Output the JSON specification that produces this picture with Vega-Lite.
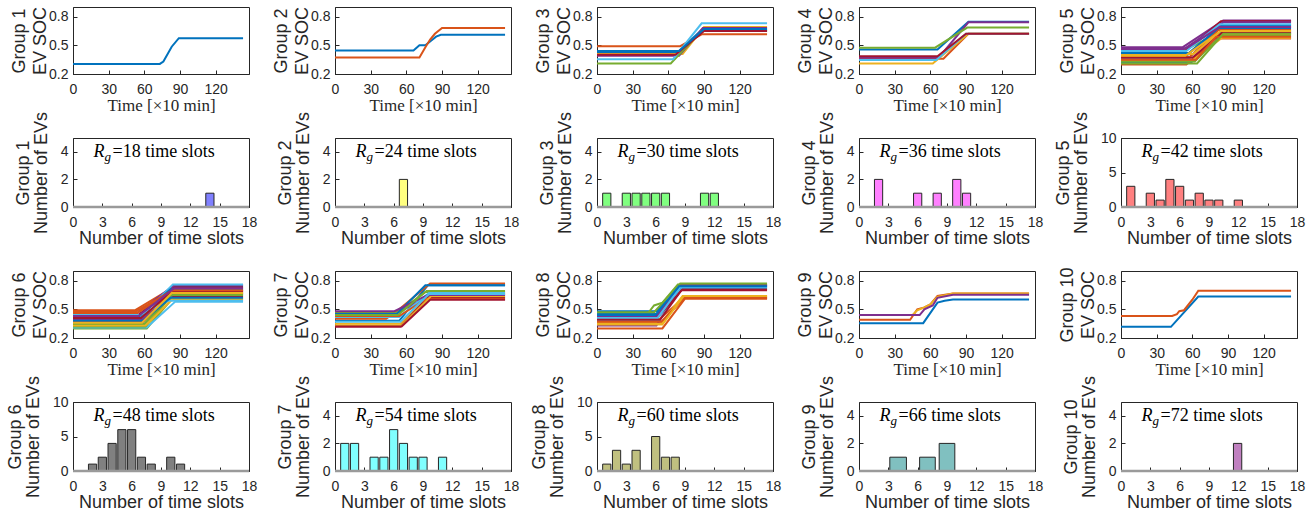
{
"$schema":"https://vega.github.io/schema/vega-lite/v6.json",
"padding":{"left":5,"top":5,"right":0,"bottom":0},
"bounds":"flush",
"columns":5,
"spacing":{"row":64,"column":86},
"datasets":{
"notes":[{"g":1,"r":"=18 time slots"},{"g":2,"r":"=24 time slots"},{"g":3,"r":"=30 time slots"},{"g":4,"r":"=36 time slots"},{"g":5,"r":"=42 time slots"},{"g":6,"r":"=48 time slots"},{"g":7,"r":"=54 time slots"},{"g":8,"r":"=60 time slots"},{"g":9,"r":"=66 time slots"},{"g":10,"r":"=72 time slots"}],
"bars":[
{"g":1,"a":13.58,"b":14.42,"n":1},
{"g":2,"a":6.58,"b":7.42,"n":2},
{"g":3,"a":0.58,"b":1.42,"n":1},{"g":3,"a":2.58,"b":3.42,"n":1},{"g":3,"a":3.58,"b":4.42,"n":1},{"g":3,"a":4.58,"b":5.42,"n":1},{"g":3,"a":5.58,"b":6.42,"n":1},{"g":3,"a":6.58,"b":7.42,"n":1},{"g":3,"a":10.58,"b":11.42,"n":1},{"g":3,"a":11.58,"b":12.42,"n":1},
{"g":4,"a":1.58,"b":2.42,"n":2},{"g":4,"a":5.58,"b":6.42,"n":1},{"g":4,"a":7.58,"b":8.42,"n":1},{"g":4,"a":9.58,"b":10.42,"n":2},{"g":4,"a":10.58,"b":11.42,"n":1},
{"g":5,"a":0.58,"b":1.42,"n":3},{"g":5,"a":2.58,"b":3.42,"n":2},{"g":5,"a":3.58,"b":4.42,"n":1},{"g":5,"a":4.58,"b":5.42,"n":4},{"g":5,"a":5.58,"b":6.42,"n":3},{"g":5,"a":6.58,"b":7.42,"n":1},{"g":5,"a":7.58,"b":8.42,"n":2},{"g":5,"a":8.58,"b":9.42,"n":1},{"g":5,"a":9.58,"b":10.42,"n":1},{"g":5,"a":11.58,"b":12.42,"n":1},
{"g":6,"a":1.58,"b":2.42,"n":1},{"g":6,"a":2.58,"b":3.42,"n":2},{"g":6,"a":3.58,"b":4.42,"n":4},{"g":6,"a":4.58,"b":5.42,"n":6},{"g":6,"a":5.58,"b":6.42,"n":6},{"g":6,"a":6.58,"b":7.42,"n":2},{"g":6,"a":7.58,"b":8.42,"n":1},{"g":6,"a":9.58,"b":10.42,"n":2},{"g":6,"a":10.58,"b":11.42,"n":1},
{"g":7,"a":0.58,"b":1.42,"n":2},{"g":7,"a":1.58,"b":2.42,"n":2},{"g":7,"a":3.58,"b":4.42,"n":1},{"g":7,"a":4.58,"b":5.42,"n":1},{"g":7,"a":5.58,"b":6.42,"n":3},{"g":7,"a":6.58,"b":7.42,"n":2},{"g":7,"a":7.58,"b":8.42,"n":1},{"g":7,"a":8.58,"b":9.42,"n":1},{"g":7,"a":10.58,"b":11.42,"n":1},
{"g":8,"a":0.58,"b":1.42,"n":1},{"g":8,"a":1.58,"b":2.42,"n":3},{"g":8,"a":2.58,"b":3.42,"n":1},{"g":8,"a":3.58,"b":4.42,"n":3},{"g":8,"a":5.58,"b":6.42,"n":5},{"g":8,"a":6.58,"b":7.42,"n":2},{"g":8,"a":7.58,"b":8.42,"n":2},
{"g":9,"a":3.15,"b":4.85,"n":1},{"g":9,"a":6.2,"b":7.8,"n":1},{"g":9,"a":8.2,"b":9.8,"n":2},
{"g":10,"a":11.5,"b":12.35,"n":2}
],
"lines":[
{"g":1,"e":1,"t":0,"s":0.305},{"g":1,"e":1,"t":73,"s":0.305},{"g":1,"e":1,"t":76,"s":0.33},{"g":1,"e":1,"t":83,"s":0.485},{"g":1,"e":1,"t":89,"s":0.574},{"g":1,"e":1,"t":143,"s":0.574},
{"g":2,"e":1,"t":0,"s":0.445},{"g":2,"e":1,"t":66,"s":0.445},{"g":2,"e":1,"t":71,"s":0.5},{"g":2,"e":1,"t":76,"s":0.5},{"g":2,"e":1,"t":81,"s":0.55},{"g":2,"e":1,"t":85,"s":0.59},{"g":2,"e":1,"t":89,"s":0.61},{"g":2,"e":1,"t":143,"s":0.61},
{"g":2,"e":2,"t":0,"s":0.373},{"g":2,"e":2,"t":71,"s":0.373},{"g":2,"e":2,"t":76,"s":0.48},{"g":2,"e":2,"t":80,"s":0.56},{"g":2,"e":2,"t":84,"s":0.62},{"g":2,"e":2,"t":90,"s":0.68},{"g":2,"e":2,"t":143,"s":0.68},
{"g":3,"e":1,"t":0,"s":0.43},{"g":3,"e":1,"t":68,"s":0.43},{"g":3,"e":1,"t":88,"s":0.66},{"g":3,"e":1,"t":143,"s":0.66},
{"g":3,"e":2,"t":0,"s":0.49},{"g":3,"e":2,"t":70,"s":0.49},{"g":3,"e":2,"t":88,"s":0.615},{"g":3,"e":2,"t":143,"s":0.615},
{"g":3,"e":3,"t":0,"s":0.41},{"g":3,"e":3,"t":72,"s":0.41},{"g":3,"e":3,"t":90,"s":0.69},{"g":3,"e":3,"t":143,"s":0.69},
{"g":3,"e":4,"t":0,"s":0.39},{"g":3,"e":4,"t":69,"s":0.39},{"g":3,"e":4,"t":89,"s":0.68},{"g":3,"e":4,"t":143,"s":0.68},
{"g":3,"e":5,"t":0,"s":0.31},{"g":3,"e":5,"t":62,"s":0.31},{"g":3,"e":5,"t":88,"s":0.65},{"g":3,"e":5,"t":143,"s":0.65},
{"g":3,"e":6,"t":0,"s":0.355},{"g":3,"e":6,"t":64,"s":0.355},{"g":3,"e":6,"t":88,"s":0.73},{"g":3,"e":6,"t":143,"s":0.73},
{"g":3,"e":7,"t":0,"s":0.4},{"g":3,"e":7,"t":66,"s":0.4},{"g":3,"e":7,"t":90,"s":0.65},{"g":3,"e":7,"t":143,"s":0.65},
{"g":3,"e":8,"t":0,"s":0.44},{"g":3,"e":8,"t":69,"s":0.44},{"g":3,"e":8,"t":90,"s":0.67},{"g":3,"e":8,"t":143,"s":0.67},
{"g":4,"e":1,"t":0,"s":0.455},{"g":4,"e":1,"t":66,"s":0.455},{"g":4,"e":1,"t":92,"s":0.745},{"g":4,"e":1,"t":143,"s":0.745},
{"g":4,"e":2,"t":0,"s":0.36},{"g":4,"e":2,"t":71,"s":0.36},{"g":4,"e":2,"t":92,"s":0.62},{"g":4,"e":2,"t":143,"s":0.62},
{"g":4,"e":3,"t":0,"s":0.31},{"g":4,"e":3,"t":62,"s":0.31},{"g":4,"e":3,"t":92,"s":0.62},{"g":4,"e":3,"t":143,"s":0.62},
{"g":4,"e":4,"t":0,"s":0.37},{"g":4,"e":4,"t":67,"s":0.37},{"g":4,"e":4,"t":92,"s":0.74},{"g":4,"e":4,"t":143,"s":0.74},
{"g":4,"e":5,"t":0,"s":0.475},{"g":4,"e":5,"t":64,"s":0.475},{"g":4,"e":5,"t":91,"s":0.685},{"g":4,"e":5,"t":143,"s":0.685},
{"g":4,"e":6,"t":0,"s":0.345},{"g":4,"e":6,"t":65,"s":0.345},{"g":4,"e":6,"t":90,"s":0.62},{"g":4,"e":6,"t":143,"s":0.62},
{"g":4,"e":7,"t":0,"s":0.385},{"g":4,"e":7,"t":66,"s":0.385},{"g":4,"e":7,"t":90,"s":0.62},{"g":4,"e":7,"t":143,"s":0.62},
{"g":5,"e":1,"t":0,"s":0.32},{"g":5,"e":1,"t":59,"s":0.32},{"g":5,"e":1,"t":84,"s":0.64},{"g":5,"e":1,"t":143,"s":0.64},
{"g":5,"e":2,"t":0,"s":0.3},{"g":5,"e":2,"t":55,"s":0.3},{"g":5,"e":2,"t":82,"s":0.57},{"g":5,"e":2,"t":143,"s":0.57},
{"g":5,"e":3,"t":0,"s":0.34},{"g":5,"e":3,"t":60,"s":0.34},{"g":5,"e":3,"t":85,"s":0.58},{"g":5,"e":3,"t":143,"s":0.58},
{"g":5,"e":4,"t":0,"s":0.48},{"g":5,"e":4,"t":52,"s":0.48},{"g":5,"e":4,"t":86,"s":0.76},{"g":5,"e":4,"t":143,"s":0.76},
{"g":5,"e":5,"t":0,"s":0.45},{"g":5,"e":5,"t":54,"s":0.45},{"g":5,"e":5,"t":80,"s":0.62},{"g":5,"e":5,"t":143,"s":0.62},
{"g":5,"e":6,"t":0,"s":0.36},{"g":5,"e":6,"t":57,"s":0.36},{"g":5,"e":6,"t":83,"s":0.7},{"g":5,"e":6,"t":143,"s":0.7},
{"g":5,"e":7,"t":0,"s":0.43},{"g":5,"e":7,"t":53,"s":0.43},{"g":5,"e":7,"t":84,"s":0.75},{"g":5,"e":7,"t":143,"s":0.75},
{"g":5,"e":8,"t":0,"s":0.4},{"g":5,"e":8,"t":56,"s":0.4},{"g":5,"e":8,"t":85,"s":0.71},{"g":5,"e":8,"t":143,"s":0.71},
{"g":5,"e":9,"t":0,"s":0.38},{"g":5,"e":9,"t":58,"s":0.38},{"g":5,"e":9,"t":82,"s":0.66},{"g":5,"e":9,"t":143,"s":0.66},
{"g":5,"e":10,"t":0,"s":0.41},{"g":5,"e":10,"t":61,"s":0.41},{"g":5,"e":10,"t":81,"s":0.61},{"g":5,"e":10,"t":143,"s":0.61},
{"g":5,"e":11,"t":0,"s":0.46},{"g":5,"e":11,"t":53,"s":0.46},{"g":5,"e":11,"t":86,"s":0.74},{"g":5,"e":11,"t":143,"s":0.74},
{"g":5,"e":12,"t":0,"s":0.33},{"g":5,"e":12,"t":62,"s":0.33},{"g":5,"e":12,"t":84,"s":0.6},{"g":5,"e":12,"t":143,"s":0.6},
{"g":5,"e":13,"t":0,"s":0.44},{"g":5,"e":13,"t":55,"s":0.44},{"g":5,"e":13,"t":83,"s":0.72},{"g":5,"e":13,"t":143,"s":0.72},
{"g":5,"e":14,"t":0,"s":0.37},{"g":5,"e":14,"t":60,"s":0.37},{"g":5,"e":14,"t":85,"s":0.63},{"g":5,"e":14,"t":143,"s":0.63},
{"g":5,"e":15,"t":0,"s":0.42},{"g":5,"e":15,"t":57,"s":0.42},{"g":5,"e":15,"t":82,"s":0.68},{"g":5,"e":15,"t":143,"s":0.68},
{"g":5,"e":16,"t":0,"s":0.35},{"g":5,"e":16,"t":63,"s":0.35},{"g":5,"e":16,"t":80,"s":0.59},{"g":5,"e":16,"t":143,"s":0.59},
{"g":5,"e":17,"t":0,"s":0.39},{"g":5,"e":17,"t":54,"s":0.39},{"g":5,"e":17,"t":84,"s":0.65},{"g":5,"e":17,"t":143,"s":0.65},
{"g":5,"e":18,"t":0,"s":0.47},{"g":5,"e":18,"t":55,"s":0.47},{"g":5,"e":18,"t":83,"s":0.69},{"g":5,"e":18,"t":143,"s":0.69},
{"g":5,"e":19,"t":0,"s":0.31},{"g":5,"e":19,"t":64,"s":0.31},{"g":5,"e":19,"t":86,"s":0.62},{"g":5,"e":19,"t":143,"s":0.62},
{"g":6,"e":1,"t":0,"s":0.36},{"g":6,"e":1,"t":57,"s":0.36},{"g":6,"e":1,"t":84,"s":0.74},{"g":6,"e":1,"t":143,"s":0.74},
{"g":6,"e":2,"t":0,"s":0.49},{"g":6,"e":2,"t":52,"s":0.49},{"g":6,"e":2,"t":83,"s":0.72},{"g":6,"e":2,"t":143,"s":0.72},
{"g":6,"e":3,"t":0,"s":0.47},{"g":6,"e":3,"t":53,"s":0.47},{"g":6,"e":3,"t":82,"s":0.66},{"g":6,"e":3,"t":143,"s":0.66},
{"g":6,"e":4,"t":0,"s":0.44},{"g":6,"e":4,"t":55,"s":0.44},{"g":6,"e":4,"t":85,"s":0.7},{"g":6,"e":4,"t":143,"s":0.7},
{"g":6,"e":5,"t":0,"s":0.3},{"g":6,"e":5,"t":62,"s":0.3},{"g":6,"e":5,"t":84,"s":0.62},{"g":6,"e":5,"t":143,"s":0.62},
{"g":6,"e":6,"t":0,"s":0.31},{"g":6,"e":6,"t":62,"s":0.31},{"g":6,"e":6,"t":86,"s":0.58},{"g":6,"e":6,"t":143,"s":0.58},
{"g":6,"e":7,"t":0,"s":0.43},{"g":6,"e":7,"t":54,"s":0.43},{"g":6,"e":7,"t":84,"s":0.73},{"g":6,"e":7,"t":143,"s":0.73},
{"g":6,"e":8,"t":0,"s":0.4},{"g":6,"e":8,"t":58,"s":0.4},{"g":6,"e":8,"t":83,"s":0.67},{"g":6,"e":8,"t":143,"s":0.67},
{"g":6,"e":9,"t":0,"s":0.38},{"g":6,"e":9,"t":57,"s":0.38},{"g":6,"e":9,"t":85,"s":0.69},{"g":6,"e":9,"t":143,"s":0.69},
{"g":6,"e":10,"t":0,"s":0.34},{"g":6,"e":10,"t":60,"s":0.34},{"g":6,"e":10,"t":82,"s":0.63},{"g":6,"e":10,"t":143,"s":0.63},
{"g":6,"e":11,"t":0,"s":0.45},{"g":6,"e":11,"t":53,"s":0.45},{"g":6,"e":11,"t":85,"s":0.75},{"g":6,"e":11,"t":143,"s":0.75},
{"g":6,"e":12,"t":0,"s":0.32},{"g":6,"e":12,"t":61,"s":0.32},{"g":6,"e":12,"t":80,"s":0.6},{"g":6,"e":12,"t":143,"s":0.6},
{"g":6,"e":13,"t":0,"s":0.41},{"g":6,"e":13,"t":56,"s":0.41},{"g":6,"e":13,"t":84,"s":0.76},{"g":6,"e":13,"t":143,"s":0.76},
{"g":6,"e":14,"t":0,"s":0.37},{"g":6,"e":14,"t":59,"s":0.37},{"g":6,"e":14,"t":83,"s":0.64},{"g":6,"e":14,"t":143,"s":0.64},
{"g":6,"e":15,"t":0,"s":0.42},{"g":6,"e":15,"t":55,"s":0.42},{"g":6,"e":15,"t":82,"s":0.71},{"g":6,"e":15,"t":143,"s":0.71},
{"g":6,"e":16,"t":0,"s":0.46},{"g":6,"e":16,"t":54,"s":0.46},{"g":6,"e":16,"t":81,"s":0.68},{"g":6,"e":16,"t":143,"s":0.68},
{"g":6,"e":17,"t":0,"s":0.33},{"g":6,"e":17,"t":61,"s":0.33},{"g":6,"e":17,"t":84,"s":0.61},{"g":6,"e":17,"t":143,"s":0.61},
{"g":6,"e":18,"t":0,"s":0.39},{"g":6,"e":18,"t":58,"s":0.39},{"g":6,"e":18,"t":85,"s":0.66},{"g":6,"e":18,"t":143,"s":0.66},
{"g":6,"e":19,"t":0,"s":0.35},{"g":6,"e":19,"t":60,"s":0.35},{"g":6,"e":19,"t":83,"s":0.65},{"g":6,"e":19,"t":143,"s":0.65},
{"g":6,"e":20,"t":0,"s":0.44},{"g":6,"e":20,"t":56,"s":0.44},{"g":6,"e":20,"t":80,"s":0.59},{"g":6,"e":20,"t":143,"s":0.59},
{"g":6,"e":21,"t":0,"s":0.41},{"g":6,"e":21,"t":57,"s":0.41},{"g":6,"e":21,"t":84,"s":0.69},{"g":6,"e":21,"t":143,"s":0.69},
{"g":6,"e":22,"t":0,"s":0.38},{"g":6,"e":22,"t":59,"s":0.38},{"g":6,"e":22,"t":82,"s":0.62},{"g":6,"e":22,"t":143,"s":0.62},
{"g":6,"e":23,"t":0,"s":0.48},{"g":6,"e":23,"t":53,"s":0.48},{"g":6,"e":23,"t":84,"s":0.7},{"g":6,"e":23,"t":143,"s":0.7},
{"g":6,"e":24,"t":0,"s":0.36},{"g":6,"e":24,"t":58,"s":0.36},{"g":6,"e":24,"t":83,"s":0.67},{"g":6,"e":24,"t":143,"s":0.67},
{"g":6,"e":25,"t":0,"s":0.43},{"g":6,"e":25,"t":55,"s":0.43},{"g":6,"e":25,"t":85,"s":0.72},{"g":6,"e":25,"t":143,"s":0.72},
{"g":7,"e":1,"t":0,"s":0.38},{"g":7,"e":1,"t":54,"s":0.38},{"g":7,"e":1,"t":78,"s":0.75},{"g":7,"e":1,"t":143,"s":0.75},
{"g":7,"e":2,"t":0,"s":0.4},{"g":7,"e":2,"t":43,"s":0.4},{"g":7,"e":2,"t":52,"s":0.48},{"g":7,"e":2,"t":80,"s":0.77},{"g":7,"e":2,"t":143,"s":0.77},
{"g":7,"e":3,"t":0,"s":0.35},{"g":7,"e":3,"t":55,"s":0.35},{"g":7,"e":3,"t":80,"s":0.66},{"g":7,"e":3,"t":143,"s":0.66},
{"g":7,"e":4,"t":0,"s":0.46},{"g":7,"e":4,"t":52,"s":0.46},{"g":7,"e":4,"t":78,"s":0.63},{"g":7,"e":4,"t":143,"s":0.63},
{"g":7,"e":5,"t":0,"s":0.47},{"g":7,"e":5,"t":53,"s":0.47},{"g":7,"e":5,"t":76,"s":0.68},{"g":7,"e":5,"t":143,"s":0.68},
{"g":7,"e":6,"t":0,"s":0.42},{"g":7,"e":6,"t":54,"s":0.42},{"g":7,"e":6,"t":79,"s":0.67},{"g":7,"e":6,"t":143,"s":0.67},
{"g":7,"e":7,"t":0,"s":0.32},{"g":7,"e":7,"t":55,"s":0.32},{"g":7,"e":7,"t":78,"s":0.62},{"g":7,"e":7,"t":143,"s":0.62},
{"g":7,"e":8,"t":0,"s":0.45},{"g":7,"e":8,"t":52,"s":0.45},{"g":7,"e":8,"t":76,"s":0.75},{"g":7,"e":8,"t":143,"s":0.75},
{"g":7,"e":9,"t":0,"s":0.43},{"g":7,"e":9,"t":54,"s":0.43},{"g":7,"e":9,"t":77,"s":0.61},{"g":7,"e":9,"t":143,"s":0.61},
{"g":7,"e":10,"t":0,"s":0.33},{"g":7,"e":10,"t":56,"s":0.33},{"g":7,"e":10,"t":81,"s":0.64},{"g":7,"e":10,"t":143,"s":0.64},
{"g":7,"e":11,"t":0,"s":0.48},{"g":7,"e":11,"t":50,"s":0.48},{"g":7,"e":11,"t":78,"s":0.65},{"g":7,"e":11,"t":143,"s":0.65},
{"g":7,"e":12,"t":0,"s":0.44},{"g":7,"e":12,"t":53,"s":0.44},{"g":7,"e":12,"t":77,"s":0.69},{"g":7,"e":12,"t":143,"s":0.69},
{"g":7,"e":13,"t":0,"s":0.37},{"g":7,"e":13,"t":55,"s":0.37},{"g":7,"e":13,"t":79,"s":0.66},{"g":7,"e":13,"t":143,"s":0.66},
{"g":7,"e":14,"t":0,"s":0.32},{"g":7,"e":14,"t":56,"s":0.32},{"g":7,"e":14,"t":80,"s":0.6},{"g":7,"e":14,"t":143,"s":0.6},
{"g":8,"e":1,"t":0,"s":0.48},{"g":8,"e":1,"t":50,"s":0.48},{"g":8,"e":1,"t":72,"s":0.75},{"g":8,"e":1,"t":143,"s":0.75},
{"g":8,"e":2,"t":0,"s":0.3},{"g":8,"e":2,"t":55,"s":0.3},{"g":8,"e":2,"t":74,"s":0.61},{"g":8,"e":2,"t":143,"s":0.61},
{"g":8,"e":3,"t":0,"s":0.36},{"g":8,"e":3,"t":55,"s":0.36},{"g":8,"e":3,"t":72,"s":0.63},{"g":8,"e":3,"t":143,"s":0.63},
{"g":8,"e":4,"t":0,"s":0.33},{"g":8,"e":4,"t":50,"s":0.33},{"g":8,"e":4,"t":70,"s":0.74},{"g":8,"e":4,"t":143,"s":0.74},
{"g":8,"e":5,"t":0,"s":0.46},{"g":8,"e":5,"t":43,"s":0.46},{"g":8,"e":5,"t":48,"s":0.54},{"g":8,"e":5,"t":55,"s":0.57},{"g":8,"e":5,"t":68,"s":0.76},{"g":8,"e":5,"t":143,"s":0.76},
{"g":8,"e":6,"t":0,"s":0.38},{"g":8,"e":6,"t":52,"s":0.38},{"g":8,"e":6,"t":71,"s":0.72},{"g":8,"e":6,"t":143,"s":0.72},
{"g":8,"e":7,"t":0,"s":0.43},{"g":8,"e":7,"t":52,"s":0.43},{"g":8,"e":7,"t":72,"s":0.71},{"g":8,"e":7,"t":143,"s":0.71},
{"g":8,"e":8,"t":0,"s":0.45},{"g":8,"e":8,"t":51,"s":0.45},{"g":8,"e":8,"t":70,"s":0.73},{"g":8,"e":8,"t":143,"s":0.73},
{"g":8,"e":9,"t":0,"s":0.4},{"g":8,"e":9,"t":53,"s":0.4},{"g":8,"e":9,"t":73,"s":0.62},{"g":8,"e":9,"t":143,"s":0.62},
{"g":8,"e":10,"t":0,"s":0.35},{"g":8,"e":10,"t":54,"s":0.35},{"g":8,"e":10,"t":72,"s":0.64},{"g":8,"e":10,"t":143,"s":0.64},
{"g":8,"e":11,"t":0,"s":0.42},{"g":8,"e":11,"t":50,"s":0.42},{"g":8,"e":11,"t":69,"s":0.75},{"g":8,"e":11,"t":143,"s":0.75},
{"g":8,"e":12,"t":0,"s":0.47},{"g":8,"e":12,"t":48,"s":0.47},{"g":8,"e":12,"t":70,"s":0.77},{"g":8,"e":12,"t":143,"s":0.77},
{"g":8,"e":13,"t":0,"s":0.41},{"g":8,"e":13,"t":51,"s":0.41},{"g":8,"e":13,"t":70,"s":0.73},{"g":8,"e":13,"t":143,"s":0.73},
{"g":8,"e":14,"t":0,"s":0.39},{"g":8,"e":14,"t":53,"s":0.39},{"g":8,"e":14,"t":71,"s":0.7},{"g":8,"e":14,"t":143,"s":0.7},
{"g":8,"e":15,"t":0,"s":0.44},{"g":8,"e":15,"t":49,"s":0.44},{"g":8,"e":15,"t":69,"s":0.74},{"g":8,"e":15,"t":143,"s":0.74},
{"g":8,"e":16,"t":0,"s":0.37},{"g":8,"e":16,"t":54,"s":0.37},{"g":8,"e":16,"t":74,"s":0.62},{"g":8,"e":16,"t":143,"s":0.62},
{"g":8,"e":17,"t":0,"s":0.34},{"g":8,"e":17,"t":55,"s":0.34},{"g":8,"e":17,"t":73,"s":0.64},{"g":8,"e":17,"t":143,"s":0.64},
{"g":9,"e":1,"t":0,"s":0.355},{"g":9,"e":1,"t":54,"s":0.355},{"g":9,"e":1,"t":66,"s":0.57},{"g":9,"e":1,"t":72,"s":0.59},{"g":9,"e":1,"t":79,"s":0.603},{"g":9,"e":1,"t":143,"s":0.603},
{"g":9,"e":2,"t":0,"s":0.39},{"g":9,"e":2,"t":43,"s":0.39},{"g":9,"e":2,"t":49,"s":0.5},{"g":9,"e":2,"t":55,"s":0.52},{"g":9,"e":2,"t":60,"s":0.55},{"g":9,"e":2,"t":66,"s":0.64},{"g":9,"e":2,"t":79,"s":0.665},{"g":9,"e":2,"t":143,"s":0.665},
{"g":9,"e":3,"t":0,"s":0.44},{"g":9,"e":3,"t":45,"s":0.44},{"g":9,"e":3,"t":49,"s":0.49},{"g":9,"e":3,"t":55,"s":0.52},{"g":9,"e":3,"t":60,"s":0.55},{"g":9,"e":3,"t":66,"s":0.63},{"g":9,"e":3,"t":79,"s":0.665},{"g":9,"e":3,"t":143,"s":0.665},
{"g":9,"e":4,"t":0,"s":0.44},{"g":9,"e":4,"t":51,"s":0.44},{"g":9,"e":4,"t":55,"s":0.5},{"g":9,"e":4,"t":62,"s":0.54},{"g":9,"e":4,"t":66,"s":0.62},{"g":9,"e":4,"t":79,"s":0.652},{"g":9,"e":4,"t":143,"s":0.652},
{"g":10,"e":1,"t":0,"s":0.317},{"g":10,"e":1,"t":42,"s":0.317},{"g":10,"e":1,"t":65,"s":0.634},{"g":10,"e":1,"t":143,"s":0.634},
{"g":10,"e":2,"t":0,"s":0.43},{"g":10,"e":2,"t":43,"s":0.43},{"g":10,"e":2,"t":47,"s":0.45},{"g":10,"e":2,"t":49,"s":0.48},{"g":10,"e":2,"t":53,"s":0.49},{"g":10,"e":2,"t":60,"s":0.6},{"g":10,"e":2,"t":65,"s":0.693},{"g":10,"e":2,"t":143,"s":0.693}
]
},
"concat":[
{"width":176,"height":67,"data":{"name":"lines"},"transform":[{"filter":"datum.g==1"}],"mark":{"type":"line","strokeWidth":2},"encoding":{"x":{"field":"t","type":"quantitative","scale":{"domain":[0,148],"nice":false},"axis":{"values":[0,30,60,90,120],"labelOverlap":false,"title":"Time [×10 min]","titleFont":"Liberation Serif","titleFontSize":17,"titleY":36}},"y":{"field":"s","type":"quantitative","scale":{"domain":[0.2,0.9],"nice":false,"zero":false},"axis":{"values":[0.2,0.5,0.8],"labelOverlap":false,"format":".1f","title":["Group 1","EV SOC"],"titleX":-49,"titleLineHeight":21}},"color":{"field":"e","type":"ordinal","legend":null,"scale":{"range":["#0072BD","#D95319","#EDB120","#7E2F8E","#77AC30","#4DBEEE","#A2142F"]}}}},
{"width":176,"height":67,"data":{"name":"lines"},"transform":[{"filter":"datum.g==2"}],"mark":{"type":"line","strokeWidth":2},"encoding":{"x":{"field":"t","type":"quantitative","scale":{"domain":[0,148],"nice":false},"axis":{"values":[0,30,60,90,120],"labelOverlap":false,"title":"Time [×10 min]","titleFont":"Liberation Serif","titleFontSize":17,"titleY":36}},"y":{"field":"s","type":"quantitative","scale":{"domain":[0.2,0.9],"nice":false,"zero":false},"axis":{"values":[0.2,0.5,0.8],"labelOverlap":false,"format":".1f","title":["Group 2","EV SOC"],"titleX":-49,"titleLineHeight":21}},"color":{"field":"e","type":"ordinal","legend":null,"scale":{"range":["#0072BD","#D95319","#EDB120","#7E2F8E","#77AC30","#4DBEEE","#A2142F"]}}}},
{"width":176,"height":67,"data":{"name":"lines"},"transform":[{"filter":"datum.g==3"}],"mark":{"type":"line","strokeWidth":2},"encoding":{"x":{"field":"t","type":"quantitative","scale":{"domain":[0,148],"nice":false},"axis":{"values":[0,30,60,90,120],"labelOverlap":false,"title":"Time [×10 min]","titleFont":"Liberation Serif","titleFontSize":17,"titleY":36}},"y":{"field":"s","type":"quantitative","scale":{"domain":[0.2,0.9],"nice":false,"zero":false},"axis":{"values":[0.2,0.5,0.8],"labelOverlap":false,"format":".1f","title":["Group 3","EV SOC"],"titleX":-49,"titleLineHeight":21}},"color":{"field":"e","type":"ordinal","legend":null,"scale":{"range":["#0072BD","#D95319","#EDB120","#7E2F8E","#77AC30","#4DBEEE","#A2142F"]}}}},
{"width":176,"height":67,"data":{"name":"lines"},"transform":[{"filter":"datum.g==4"}],"mark":{"type":"line","strokeWidth":2},"encoding":{"x":{"field":"t","type":"quantitative","scale":{"domain":[0,148],"nice":false},"axis":{"values":[0,30,60,90,120],"labelOverlap":false,"title":"Time [×10 min]","titleFont":"Liberation Serif","titleFontSize":17,"titleY":36}},"y":{"field":"s","type":"quantitative","scale":{"domain":[0.2,0.9],"nice":false,"zero":false},"axis":{"values":[0.2,0.5,0.8],"labelOverlap":false,"format":".1f","title":["Group 4","EV SOC"],"titleX":-49,"titleLineHeight":21}},"color":{"field":"e","type":"ordinal","legend":null,"scale":{"range":["#0072BD","#D95319","#EDB120","#7E2F8E","#77AC30","#4DBEEE","#A2142F"]}}}},
{"width":176,"height":67,"data":{"name":"lines"},"transform":[{"filter":"datum.g==5"}],"mark":{"type":"line","strokeWidth":2},"encoding":{"x":{"field":"t","type":"quantitative","scale":{"domain":[0,148],"nice":false},"axis":{"values":[0,30,60,90,120],"labelOverlap":false,"title":"Time [×10 min]","titleFont":"Liberation Serif","titleFontSize":17,"titleY":36}},"y":{"field":"s","type":"quantitative","scale":{"domain":[0.2,0.9],"nice":false,"zero":false},"axis":{"values":[0.2,0.5,0.8],"labelOverlap":false,"format":".1f","title":["Group 5","EV SOC"],"titleX":-49,"titleLineHeight":21}},"color":{"field":"e","type":"ordinal","legend":null,"scale":{"range":["#0072BD","#D95319","#EDB120","#7E2F8E","#77AC30","#4DBEEE","#A2142F"]}}}},
{"width":176,"height":69,"layer":[
 {"data":{"name":"bars"},"transform":[{"filter":"datum.g==1"}],"mark":{"type":"rect","fill":"#8080ff","stroke":"#262626","strokeWidth":1},"encoding":{"x":{"field":"a","type":"quantitative","scale":{"domain":[0,18],"nice":false},"axis":{"values":[0,3,6,9,12,15,18],"labelOverlap":false,"title":"Number of time slots","titleY":36}},"x2":{"field":"b"},"y":{"field":"n","type":"quantitative","scale":{"domain":[0,5],"nice":false},"axis":{"values":[0,2,4],"labelOverlap":false,"title":["Group 1","Number of EVs"],"titleX":-45,"titleLineHeight":18}},"y2":{"datum":0}}},
 {"data":{"name":"notes"},"transform":[{"filter":"datum.g==1"}],"encoding":{"x":{"datum":2.1,"type":"quantitative","scale":{"domain":[0,18],"nice":false},"axis":{"values":[0,3,6,9,12,15,18],"labelOverlap":false,"title":"Number of time slots","titleY":36}},"y":{"datum":3.65,"type":"quantitative","scale":{"domain":[0,5],"nice":false},"axis":{"values":[0,2,4],"labelOverlap":false,"title":["Group 1","Number of EVs"],"titleX":-45,"titleLineHeight":18}}},"layer":[
  {"mark":{"type":"rule","color":"#9a9a9a","strokeWidth":2.5},"encoding":{"x":{"datum":0,"type":"quantitative","scale":{"domain":[0,18],"nice":false},"axis":{"values":[0,3,6,9,12,15,18],"labelOverlap":false,"title":"Number of time slots","titleY":36}},"x2":{"datum":18},"y":{"datum":0,"type":"quantitative","scale":{"domain":[0,5],"nice":false},"axis":{"values":[0,2,4],"labelOverlap":false,"title":["Group 1","Number of EVs"],"titleX":-45,"titleLineHeight":18}}}},
  {"mark":{"type":"text","text":"R","font":"Liberation Serif","fontStyle":"italic","fontSize":18,"align":"left","baseline":"alphabetic","color":"#000"}},
  {"mark":{"type":"text","text":"g","font":"Liberation Serif","fontStyle":"italic","fontSize":13,"align":"left","baseline":"alphabetic","dx":11,"dy":4,"color":"#000"}},
  {"mark":{"type":"text","font":"Liberation Serif","fontSize":18,"align":"left","baseline":"alphabetic","dx":19,"color":"#000"},"encoding":{"text":{"field":"r"}}}]}]},
{"width":176,"height":69,"layer":[
 {"data":{"name":"bars"},"transform":[{"filter":"datum.g==2"}],"mark":{"type":"rect","fill":"#ffff80","stroke":"#262626","strokeWidth":1},"encoding":{"x":{"field":"a","type":"quantitative","scale":{"domain":[0,18],"nice":false},"axis":{"values":[0,3,6,9,12,15,18],"labelOverlap":false,"title":"Number of time slots","titleY":36}},"x2":{"field":"b"},"y":{"field":"n","type":"quantitative","scale":{"domain":[0,5],"nice":false},"axis":{"values":[0,2,4],"labelOverlap":false,"title":["Group 2","Number of EVs"],"titleX":-45,"titleLineHeight":18}},"y2":{"datum":0}}},
 {"data":{"name":"notes"},"transform":[{"filter":"datum.g==2"}],"encoding":{"x":{"datum":2.1,"type":"quantitative","scale":{"domain":[0,18],"nice":false},"axis":{"values":[0,3,6,9,12,15,18],"labelOverlap":false,"title":"Number of time slots","titleY":36}},"y":{"datum":3.65,"type":"quantitative","scale":{"domain":[0,5],"nice":false},"axis":{"values":[0,2,4],"labelOverlap":false,"title":["Group 2","Number of EVs"],"titleX":-45,"titleLineHeight":18}}},"layer":[
  {"mark":{"type":"rule","color":"#9a9a9a","strokeWidth":2.5},"encoding":{"x":{"datum":0,"type":"quantitative","scale":{"domain":[0,18],"nice":false},"axis":{"values":[0,3,6,9,12,15,18],"labelOverlap":false,"title":"Number of time slots","titleY":36}},"x2":{"datum":18},"y":{"datum":0,"type":"quantitative","scale":{"domain":[0,5],"nice":false},"axis":{"values":[0,2,4],"labelOverlap":false,"title":["Group 2","Number of EVs"],"titleX":-45,"titleLineHeight":18}}}},
  {"mark":{"type":"text","text":"R","font":"Liberation Serif","fontStyle":"italic","fontSize":18,"align":"left","baseline":"alphabetic","color":"#000"}},
  {"mark":{"type":"text","text":"g","font":"Liberation Serif","fontStyle":"italic","fontSize":13,"align":"left","baseline":"alphabetic","dx":11,"dy":4,"color":"#000"}},
  {"mark":{"type":"text","font":"Liberation Serif","fontSize":18,"align":"left","baseline":"alphabetic","dx":19,"color":"#000"},"encoding":{"text":{"field":"r"}}}]}]},
{"width":176,"height":69,"layer":[
 {"data":{"name":"bars"},"transform":[{"filter":"datum.g==3"}],"mark":{"type":"rect","fill":"#80ff80","stroke":"#262626","strokeWidth":1},"encoding":{"x":{"field":"a","type":"quantitative","scale":{"domain":[0,18],"nice":false},"axis":{"values":[0,3,6,9,12,15,18],"labelOverlap":false,"title":"Number of time slots","titleY":36}},"x2":{"field":"b"},"y":{"field":"n","type":"quantitative","scale":{"domain":[0,5],"nice":false},"axis":{"values":[0,2,4],"labelOverlap":false,"title":["Group 3","Number of EVs"],"titleX":-45,"titleLineHeight":18}},"y2":{"datum":0}}},
 {"data":{"name":"notes"},"transform":[{"filter":"datum.g==3"}],"encoding":{"x":{"datum":2.1,"type":"quantitative","scale":{"domain":[0,18],"nice":false},"axis":{"values":[0,3,6,9,12,15,18],"labelOverlap":false,"title":"Number of time slots","titleY":36}},"y":{"datum":3.65,"type":"quantitative","scale":{"domain":[0,5],"nice":false},"axis":{"values":[0,2,4],"labelOverlap":false,"title":["Group 3","Number of EVs"],"titleX":-45,"titleLineHeight":18}}},"layer":[
  {"mark":{"type":"rule","color":"#9a9a9a","strokeWidth":2.5},"encoding":{"x":{"datum":0,"type":"quantitative","scale":{"domain":[0,18],"nice":false},"axis":{"values":[0,3,6,9,12,15,18],"labelOverlap":false,"title":"Number of time slots","titleY":36}},"x2":{"datum":18},"y":{"datum":0,"type":"quantitative","scale":{"domain":[0,5],"nice":false},"axis":{"values":[0,2,4],"labelOverlap":false,"title":["Group 3","Number of EVs"],"titleX":-45,"titleLineHeight":18}}}},
  {"mark":{"type":"text","text":"R","font":"Liberation Serif","fontStyle":"italic","fontSize":18,"align":"left","baseline":"alphabetic","color":"#000"}},
  {"mark":{"type":"text","text":"g","font":"Liberation Serif","fontStyle":"italic","fontSize":13,"align":"left","baseline":"alphabetic","dx":11,"dy":4,"color":"#000"}},
  {"mark":{"type":"text","font":"Liberation Serif","fontSize":18,"align":"left","baseline":"alphabetic","dx":19,"color":"#000"},"encoding":{"text":{"field":"r"}}}]}]},
{"width":176,"height":69,"layer":[
 {"data":{"name":"bars"},"transform":[{"filter":"datum.g==4"}],"mark":{"type":"rect","fill":"#ff80ff","stroke":"#262626","strokeWidth":1},"encoding":{"x":{"field":"a","type":"quantitative","scale":{"domain":[0,18],"nice":false},"axis":{"values":[0,3,6,9,12,15,18],"labelOverlap":false,"title":"Number of time slots","titleY":36}},"x2":{"field":"b"},"y":{"field":"n","type":"quantitative","scale":{"domain":[0,5],"nice":false},"axis":{"values":[0,2,4],"labelOverlap":false,"title":["Group 4","Number of EVs"],"titleX":-45,"titleLineHeight":18}},"y2":{"datum":0}}},
 {"data":{"name":"notes"},"transform":[{"filter":"datum.g==4"}],"encoding":{"x":{"datum":2.1,"type":"quantitative","scale":{"domain":[0,18],"nice":false},"axis":{"values":[0,3,6,9,12,15,18],"labelOverlap":false,"title":"Number of time slots","titleY":36}},"y":{"datum":3.65,"type":"quantitative","scale":{"domain":[0,5],"nice":false},"axis":{"values":[0,2,4],"labelOverlap":false,"title":["Group 4","Number of EVs"],"titleX":-45,"titleLineHeight":18}}},"layer":[
  {"mark":{"type":"rule","color":"#9a9a9a","strokeWidth":2.5},"encoding":{"x":{"datum":0,"type":"quantitative","scale":{"domain":[0,18],"nice":false},"axis":{"values":[0,3,6,9,12,15,18],"labelOverlap":false,"title":"Number of time slots","titleY":36}},"x2":{"datum":18},"y":{"datum":0,"type":"quantitative","scale":{"domain":[0,5],"nice":false},"axis":{"values":[0,2,4],"labelOverlap":false,"title":["Group 4","Number of EVs"],"titleX":-45,"titleLineHeight":18}}}},
  {"mark":{"type":"text","text":"R","font":"Liberation Serif","fontStyle":"italic","fontSize":18,"align":"left","baseline":"alphabetic","color":"#000"}},
  {"mark":{"type":"text","text":"g","font":"Liberation Serif","fontStyle":"italic","fontSize":13,"align":"left","baseline":"alphabetic","dx":11,"dy":4,"color":"#000"}},
  {"mark":{"type":"text","font":"Liberation Serif","fontSize":18,"align":"left","baseline":"alphabetic","dx":19,"color":"#000"},"encoding":{"text":{"field":"r"}}}]}]},
{"width":176,"height":69,"layer":[
 {"data":{"name":"bars"},"transform":[{"filter":"datum.g==5"}],"mark":{"type":"rect","fill":"#ff8080","stroke":"#262626","strokeWidth":1},"encoding":{"x":{"field":"a","type":"quantitative","scale":{"domain":[0,18],"nice":false},"axis":{"values":[0,3,6,9,12,15,18],"labelOverlap":false,"title":"Number of time slots","titleY":36}},"x2":{"field":"b"},"y":{"field":"n","type":"quantitative","scale":{"domain":[0,10],"nice":false},"axis":{"values":[0,5,10],"labelOverlap":false,"title":["Group 5","Number of EVs"],"titleX":-53,"titleLineHeight":18}},"y2":{"datum":0}}},
 {"data":{"name":"notes"},"transform":[{"filter":"datum.g==5"}],"encoding":{"x":{"datum":2.1,"type":"quantitative","scale":{"domain":[0,18],"nice":false},"axis":{"values":[0,3,6,9,12,15,18],"labelOverlap":false,"title":"Number of time slots","titleY":36}},"y":{"datum":7.3,"type":"quantitative","scale":{"domain":[0,10],"nice":false},"axis":{"values":[0,5,10],"labelOverlap":false,"title":["Group 5","Number of EVs"],"titleX":-53,"titleLineHeight":18}}},"layer":[
  {"mark":{"type":"rule","color":"#9a9a9a","strokeWidth":2.5},"encoding":{"x":{"datum":0,"type":"quantitative","scale":{"domain":[0,18],"nice":false},"axis":{"values":[0,3,6,9,12,15,18],"labelOverlap":false,"title":"Number of time slots","titleY":36}},"x2":{"datum":18},"y":{"datum":0,"type":"quantitative","scale":{"domain":[0,10],"nice":false},"axis":{"values":[0,5,10],"labelOverlap":false,"title":["Group 5","Number of EVs"],"titleX":-53,"titleLineHeight":18}}}},
  {"mark":{"type":"text","text":"R","font":"Liberation Serif","fontStyle":"italic","fontSize":18,"align":"left","baseline":"alphabetic","color":"#000"}},
  {"mark":{"type":"text","text":"g","font":"Liberation Serif","fontStyle":"italic","fontSize":13,"align":"left","baseline":"alphabetic","dx":11,"dy":4,"color":"#000"}},
  {"mark":{"type":"text","font":"Liberation Serif","fontSize":18,"align":"left","baseline":"alphabetic","dx":19,"color":"#000"},"encoding":{"text":{"field":"r"}}}]}]},
{"width":176,"height":67,"data":{"name":"lines"},"transform":[{"filter":"datum.g==6"}],"mark":{"type":"line","strokeWidth":2},"encoding":{"x":{"field":"t","type":"quantitative","scale":{"domain":[0,148],"nice":false},"axis":{"values":[0,30,60,90,120],"labelOverlap":false,"title":"Time [×10 min]","titleFont":"Liberation Serif","titleFontSize":17,"titleY":36}},"y":{"field":"s","type":"quantitative","scale":{"domain":[0.2,0.9],"nice":false,"zero":false},"axis":{"values":[0.2,0.5,0.8],"labelOverlap":false,"format":".1f","title":["Group 6","EV SOC"],"titleX":-49,"titleLineHeight":21}},"color":{"field":"e","type":"ordinal","legend":null,"scale":{"range":["#0072BD","#D95319","#EDB120","#7E2F8E","#77AC30","#4DBEEE","#A2142F"]}}}},
{"width":176,"height":67,"data":{"name":"lines"},"transform":[{"filter":"datum.g==7"}],"mark":{"type":"line","strokeWidth":2},"encoding":{"x":{"field":"t","type":"quantitative","scale":{"domain":[0,148],"nice":false},"axis":{"values":[0,30,60,90,120],"labelOverlap":false,"title":"Time [×10 min]","titleFont":"Liberation Serif","titleFontSize":17,"titleY":36}},"y":{"field":"s","type":"quantitative","scale":{"domain":[0.2,0.9],"nice":false,"zero":false},"axis":{"values":[0.2,0.5,0.8],"labelOverlap":false,"format":".1f","title":["Group 7","EV SOC"],"titleX":-49,"titleLineHeight":21}},"color":{"field":"e","type":"ordinal","legend":null,"scale":{"range":["#0072BD","#D95319","#EDB120","#7E2F8E","#77AC30","#4DBEEE","#A2142F"]}}}},
{"width":176,"height":67,"data":{"name":"lines"},"transform":[{"filter":"datum.g==8"}],"mark":{"type":"line","strokeWidth":2},"encoding":{"x":{"field":"t","type":"quantitative","scale":{"domain":[0,148],"nice":false},"axis":{"values":[0,30,60,90,120],"labelOverlap":false,"title":"Time [×10 min]","titleFont":"Liberation Serif","titleFontSize":17,"titleY":36}},"y":{"field":"s","type":"quantitative","scale":{"domain":[0.2,0.9],"nice":false,"zero":false},"axis":{"values":[0.2,0.5,0.8],"labelOverlap":false,"format":".1f","title":["Group 8","EV SOC"],"titleX":-49,"titleLineHeight":21}},"color":{"field":"e","type":"ordinal","legend":null,"scale":{"range":["#0072BD","#D95319","#EDB120","#7E2F8E","#77AC30","#4DBEEE","#A2142F"]}}}},
{"width":176,"height":67,"data":{"name":"lines"},"transform":[{"filter":"datum.g==9"}],"mark":{"type":"line","strokeWidth":2},"encoding":{"x":{"field":"t","type":"quantitative","scale":{"domain":[0,148],"nice":false},"axis":{"values":[0,30,60,90,120],"labelOverlap":false,"title":"Time [×10 min]","titleFont":"Liberation Serif","titleFontSize":17,"titleY":36}},"y":{"field":"s","type":"quantitative","scale":{"domain":[0.2,0.9],"nice":false,"zero":false},"axis":{"values":[0.2,0.5,0.8],"labelOverlap":false,"format":".1f","title":["Group 9","EV SOC"],"titleX":-49,"titleLineHeight":21}},"color":{"field":"e","type":"ordinal","legend":null,"scale":{"range":["#0072BD","#D95319","#EDB120","#7E2F8E","#77AC30","#4DBEEE","#A2142F"]}}}},
{"width":176,"height":67,"data":{"name":"lines"},"transform":[{"filter":"datum.g==10"}],"mark":{"type":"line","strokeWidth":2},"encoding":{"x":{"field":"t","type":"quantitative","scale":{"domain":[0,148],"nice":false},"axis":{"values":[0,30,60,90,120],"labelOverlap":false,"title":"Time [×10 min]","titleFont":"Liberation Serif","titleFontSize":17,"titleY":36}},"y":{"field":"s","type":"quantitative","scale":{"domain":[0.2,0.9],"nice":false,"zero":false},"axis":{"values":[0.2,0.5,0.8],"labelOverlap":false,"format":".1f","title":["Group 10","EV SOC"],"titleX":-49,"titleLineHeight":21}},"color":{"field":"e","type":"ordinal","legend":null,"scale":{"range":["#0072BD","#D95319","#EDB120","#7E2F8E","#77AC30","#4DBEEE","#A2142F"]}}}},
{"width":176,"height":69,"layer":[
 {"data":{"name":"bars"},"transform":[{"filter":"datum.g==6"}],"mark":{"type":"rect","fill":"#808080","stroke":"#262626","strokeWidth":1},"encoding":{"x":{"field":"a","type":"quantitative","scale":{"domain":[0,18],"nice":false},"axis":{"values":[0,3,6,9,12,15,18],"labelOverlap":false,"title":"Number of time slots","titleY":36}},"x2":{"field":"b"},"y":{"field":"n","type":"quantitative","scale":{"domain":[0,10],"nice":false},"axis":{"values":[0,5,10],"labelOverlap":false,"title":["Group 6","Number of EVs"],"titleX":-53,"titleLineHeight":18}},"y2":{"datum":0}}},
 {"data":{"name":"notes"},"transform":[{"filter":"datum.g==6"}],"encoding":{"x":{"datum":2.1,"type":"quantitative","scale":{"domain":[0,18],"nice":false},"axis":{"values":[0,3,6,9,12,15,18],"labelOverlap":false,"title":"Number of time slots","titleY":36}},"y":{"datum":7.3,"type":"quantitative","scale":{"domain":[0,10],"nice":false},"axis":{"values":[0,5,10],"labelOverlap":false,"title":["Group 6","Number of EVs"],"titleX":-53,"titleLineHeight":18}}},"layer":[
  {"mark":{"type":"rule","color":"#9a9a9a","strokeWidth":2.5},"encoding":{"x":{"datum":0,"type":"quantitative","scale":{"domain":[0,18],"nice":false},"axis":{"values":[0,3,6,9,12,15,18],"labelOverlap":false,"title":"Number of time slots","titleY":36}},"x2":{"datum":18},"y":{"datum":0,"type":"quantitative","scale":{"domain":[0,10],"nice":false},"axis":{"values":[0,5,10],"labelOverlap":false,"title":["Group 6","Number of EVs"],"titleX":-53,"titleLineHeight":18}}}},
  {"mark":{"type":"text","text":"R","font":"Liberation Serif","fontStyle":"italic","fontSize":18,"align":"left","baseline":"alphabetic","color":"#000"}},
  {"mark":{"type":"text","text":"g","font":"Liberation Serif","fontStyle":"italic","fontSize":13,"align":"left","baseline":"alphabetic","dx":11,"dy":4,"color":"#000"}},
  {"mark":{"type":"text","font":"Liberation Serif","fontSize":18,"align":"left","baseline":"alphabetic","dx":19,"color":"#000"},"encoding":{"text":{"field":"r"}}}]}]},
{"width":176,"height":69,"layer":[
 {"data":{"name":"bars"},"transform":[{"filter":"datum.g==7"}],"mark":{"type":"rect","fill":"#80ffff","stroke":"#262626","strokeWidth":1},"encoding":{"x":{"field":"a","type":"quantitative","scale":{"domain":[0,18],"nice":false},"axis":{"values":[0,3,6,9,12,15,18],"labelOverlap":false,"title":"Number of time slots","titleY":36}},"x2":{"field":"b"},"y":{"field":"n","type":"quantitative","scale":{"domain":[0,5],"nice":false},"axis":{"values":[0,2,4],"labelOverlap":false,"title":["Group 7","Number of EVs"],"titleX":-45,"titleLineHeight":18}},"y2":{"datum":0}}},
 {"data":{"name":"notes"},"transform":[{"filter":"datum.g==7"}],"encoding":{"x":{"datum":2.1,"type":"quantitative","scale":{"domain":[0,18],"nice":false},"axis":{"values":[0,3,6,9,12,15,18],"labelOverlap":false,"title":"Number of time slots","titleY":36}},"y":{"datum":3.65,"type":"quantitative","scale":{"domain":[0,5],"nice":false},"axis":{"values":[0,2,4],"labelOverlap":false,"title":["Group 7","Number of EVs"],"titleX":-45,"titleLineHeight":18}}},"layer":[
  {"mark":{"type":"rule","color":"#9a9a9a","strokeWidth":2.5},"encoding":{"x":{"datum":0,"type":"quantitative","scale":{"domain":[0,18],"nice":false},"axis":{"values":[0,3,6,9,12,15,18],"labelOverlap":false,"title":"Number of time slots","titleY":36}},"x2":{"datum":18},"y":{"datum":0,"type":"quantitative","scale":{"domain":[0,5],"nice":false},"axis":{"values":[0,2,4],"labelOverlap":false,"title":["Group 7","Number of EVs"],"titleX":-45,"titleLineHeight":18}}}},
  {"mark":{"type":"text","text":"R","font":"Liberation Serif","fontStyle":"italic","fontSize":18,"align":"left","baseline":"alphabetic","color":"#000"}},
  {"mark":{"type":"text","text":"g","font":"Liberation Serif","fontStyle":"italic","fontSize":13,"align":"left","baseline":"alphabetic","dx":11,"dy":4,"color":"#000"}},
  {"mark":{"type":"text","font":"Liberation Serif","fontSize":18,"align":"left","baseline":"alphabetic","dx":19,"color":"#000"},"encoding":{"text":{"field":"r"}}}]}]},
{"width":176,"height":69,"layer":[
 {"data":{"name":"bars"},"transform":[{"filter":"datum.g==8"}],"mark":{"type":"rect","fill":"#c0c080","stroke":"#262626","strokeWidth":1},"encoding":{"x":{"field":"a","type":"quantitative","scale":{"domain":[0,18],"nice":false},"axis":{"values":[0,3,6,9,12,15,18],"labelOverlap":false,"title":"Number of time slots","titleY":36}},"x2":{"field":"b"},"y":{"field":"n","type":"quantitative","scale":{"domain":[0,10],"nice":false},"axis":{"values":[0,5,10],"labelOverlap":false,"title":["Group 8","Number of EVs"],"titleX":-53,"titleLineHeight":18}},"y2":{"datum":0}}},
 {"data":{"name":"notes"},"transform":[{"filter":"datum.g==8"}],"encoding":{"x":{"datum":2.1,"type":"quantitative","scale":{"domain":[0,18],"nice":false},"axis":{"values":[0,3,6,9,12,15,18],"labelOverlap":false,"title":"Number of time slots","titleY":36}},"y":{"datum":7.3,"type":"quantitative","scale":{"domain":[0,10],"nice":false},"axis":{"values":[0,5,10],"labelOverlap":false,"title":["Group 8","Number of EVs"],"titleX":-53,"titleLineHeight":18}}},"layer":[
  {"mark":{"type":"rule","color":"#9a9a9a","strokeWidth":2.5},"encoding":{"x":{"datum":0,"type":"quantitative","scale":{"domain":[0,18],"nice":false},"axis":{"values":[0,3,6,9,12,15,18],"labelOverlap":false,"title":"Number of time slots","titleY":36}},"x2":{"datum":18},"y":{"datum":0,"type":"quantitative","scale":{"domain":[0,10],"nice":false},"axis":{"values":[0,5,10],"labelOverlap":false,"title":["Group 8","Number of EVs"],"titleX":-53,"titleLineHeight":18}}}},
  {"mark":{"type":"text","text":"R","font":"Liberation Serif","fontStyle":"italic","fontSize":18,"align":"left","baseline":"alphabetic","color":"#000"}},
  {"mark":{"type":"text","text":"g","font":"Liberation Serif","fontStyle":"italic","fontSize":13,"align":"left","baseline":"alphabetic","dx":11,"dy":4,"color":"#000"}},
  {"mark":{"type":"text","font":"Liberation Serif","fontSize":18,"align":"left","baseline":"alphabetic","dx":19,"color":"#000"},"encoding":{"text":{"field":"r"}}}]}]},
{"width":176,"height":69,"layer":[
 {"data":{"name":"bars"},"transform":[{"filter":"datum.g==9"}],"mark":{"type":"rect","fill":"#80c0c0","stroke":"#262626","strokeWidth":1},"encoding":{"x":{"field":"a","type":"quantitative","scale":{"domain":[0,18],"nice":false},"axis":{"values":[0,3,6,9,12,15,18],"labelOverlap":false,"title":"Number of time slots","titleY":36}},"x2":{"field":"b"},"y":{"field":"n","type":"quantitative","scale":{"domain":[0,5],"nice":false},"axis":{"values":[0,2,4],"labelOverlap":false,"title":["Group 9","Number of EVs"],"titleX":-45,"titleLineHeight":18}},"y2":{"datum":0}}},
 {"data":{"name":"notes"},"transform":[{"filter":"datum.g==9"}],"encoding":{"x":{"datum":2.1,"type":"quantitative","scale":{"domain":[0,18],"nice":false},"axis":{"values":[0,3,6,9,12,15,18],"labelOverlap":false,"title":"Number of time slots","titleY":36}},"y":{"datum":3.65,"type":"quantitative","scale":{"domain":[0,5],"nice":false},"axis":{"values":[0,2,4],"labelOverlap":false,"title":["Group 9","Number of EVs"],"titleX":-45,"titleLineHeight":18}}},"layer":[
  {"mark":{"type":"rule","color":"#9a9a9a","strokeWidth":2.5},"encoding":{"x":{"datum":0,"type":"quantitative","scale":{"domain":[0,18],"nice":false},"axis":{"values":[0,3,6,9,12,15,18],"labelOverlap":false,"title":"Number of time slots","titleY":36}},"x2":{"datum":18},"y":{"datum":0,"type":"quantitative","scale":{"domain":[0,5],"nice":false},"axis":{"values":[0,2,4],"labelOverlap":false,"title":["Group 9","Number of EVs"],"titleX":-45,"titleLineHeight":18}}}},
  {"mark":{"type":"text","text":"R","font":"Liberation Serif","fontStyle":"italic","fontSize":18,"align":"left","baseline":"alphabetic","color":"#000"}},
  {"mark":{"type":"text","text":"g","font":"Liberation Serif","fontStyle":"italic","fontSize":13,"align":"left","baseline":"alphabetic","dx":11,"dy":4,"color":"#000"}},
  {"mark":{"type":"text","font":"Liberation Serif","fontSize":18,"align":"left","baseline":"alphabetic","dx":19,"color":"#000"},"encoding":{"text":{"field":"r"}}}]}]},
{"width":176,"height":69,"layer":[
 {"data":{"name":"bars"},"transform":[{"filter":"datum.g==10"}],"mark":{"type":"rect","fill":"#c080c0","stroke":"#262626","strokeWidth":1},"encoding":{"x":{"field":"a","type":"quantitative","scale":{"domain":[0,18],"nice":false},"axis":{"values":[0,3,6,9,12,15,18],"labelOverlap":false,"title":"Number of time slots","titleY":36}},"x2":{"field":"b"},"y":{"field":"n","type":"quantitative","scale":{"domain":[0,5],"nice":false},"axis":{"values":[0,2,4],"labelOverlap":false,"title":["Group 10","Number of EVs"],"titleX":-45,"titleLineHeight":18}},"y2":{"datum":0}}},
 {"data":{"name":"notes"},"transform":[{"filter":"datum.g==10"}],"encoding":{"x":{"datum":2.1,"type":"quantitative","scale":{"domain":[0,18],"nice":false},"axis":{"values":[0,3,6,9,12,15,18],"labelOverlap":false,"title":"Number of time slots","titleY":36}},"y":{"datum":3.65,"type":"quantitative","scale":{"domain":[0,5],"nice":false},"axis":{"values":[0,2,4],"labelOverlap":false,"title":["Group 10","Number of EVs"],"titleX":-45,"titleLineHeight":18}}},"layer":[
  {"mark":{"type":"rule","color":"#9a9a9a","strokeWidth":2.5},"encoding":{"x":{"datum":0,"type":"quantitative","scale":{"domain":[0,18],"nice":false},"axis":{"values":[0,3,6,9,12,15,18],"labelOverlap":false,"title":"Number of time slots","titleY":36}},"x2":{"datum":18},"y":{"datum":0,"type":"quantitative","scale":{"domain":[0,5],"nice":false},"axis":{"values":[0,2,4],"labelOverlap":false,"title":["Group 10","Number of EVs"],"titleX":-45,"titleLineHeight":18}}}},
  {"mark":{"type":"text","text":"R","font":"Liberation Serif","fontStyle":"italic","fontSize":18,"align":"left","baseline":"alphabetic","color":"#000"}},
  {"mark":{"type":"text","text":"g","font":"Liberation Serif","fontStyle":"italic","fontSize":13,"align":"left","baseline":"alphabetic","dx":11,"dy":4,"color":"#000"}},
  {"mark":{"type":"text","font":"Liberation Serif","fontSize":18,"align":"left","baseline":"alphabetic","dx":19,"color":"#000"},"encoding":{"text":{"field":"r"}}}]}]}
],
"config":{
 "view":{"stroke":"#262626","strokeWidth":1},
 "font":"Liberation Sans",
 "axis":{"grid":false,"domainColor":"#262626","tickColor":"#262626","tickSize":-4,"labelFont":"Liberation Sans","labelFontSize":14,"labelColor":"#262626","labelFlush":false,"labelOverlap":false,"titleFont":"Liberation Sans","titleFontSize":18,"titleFontWeight":"normal","titleColor":"#262626","titleBaseline":"alphabetic"},
 "axisX":{"labelPadding":12},
 "axisY":{"labelPadding":9}
}
}
